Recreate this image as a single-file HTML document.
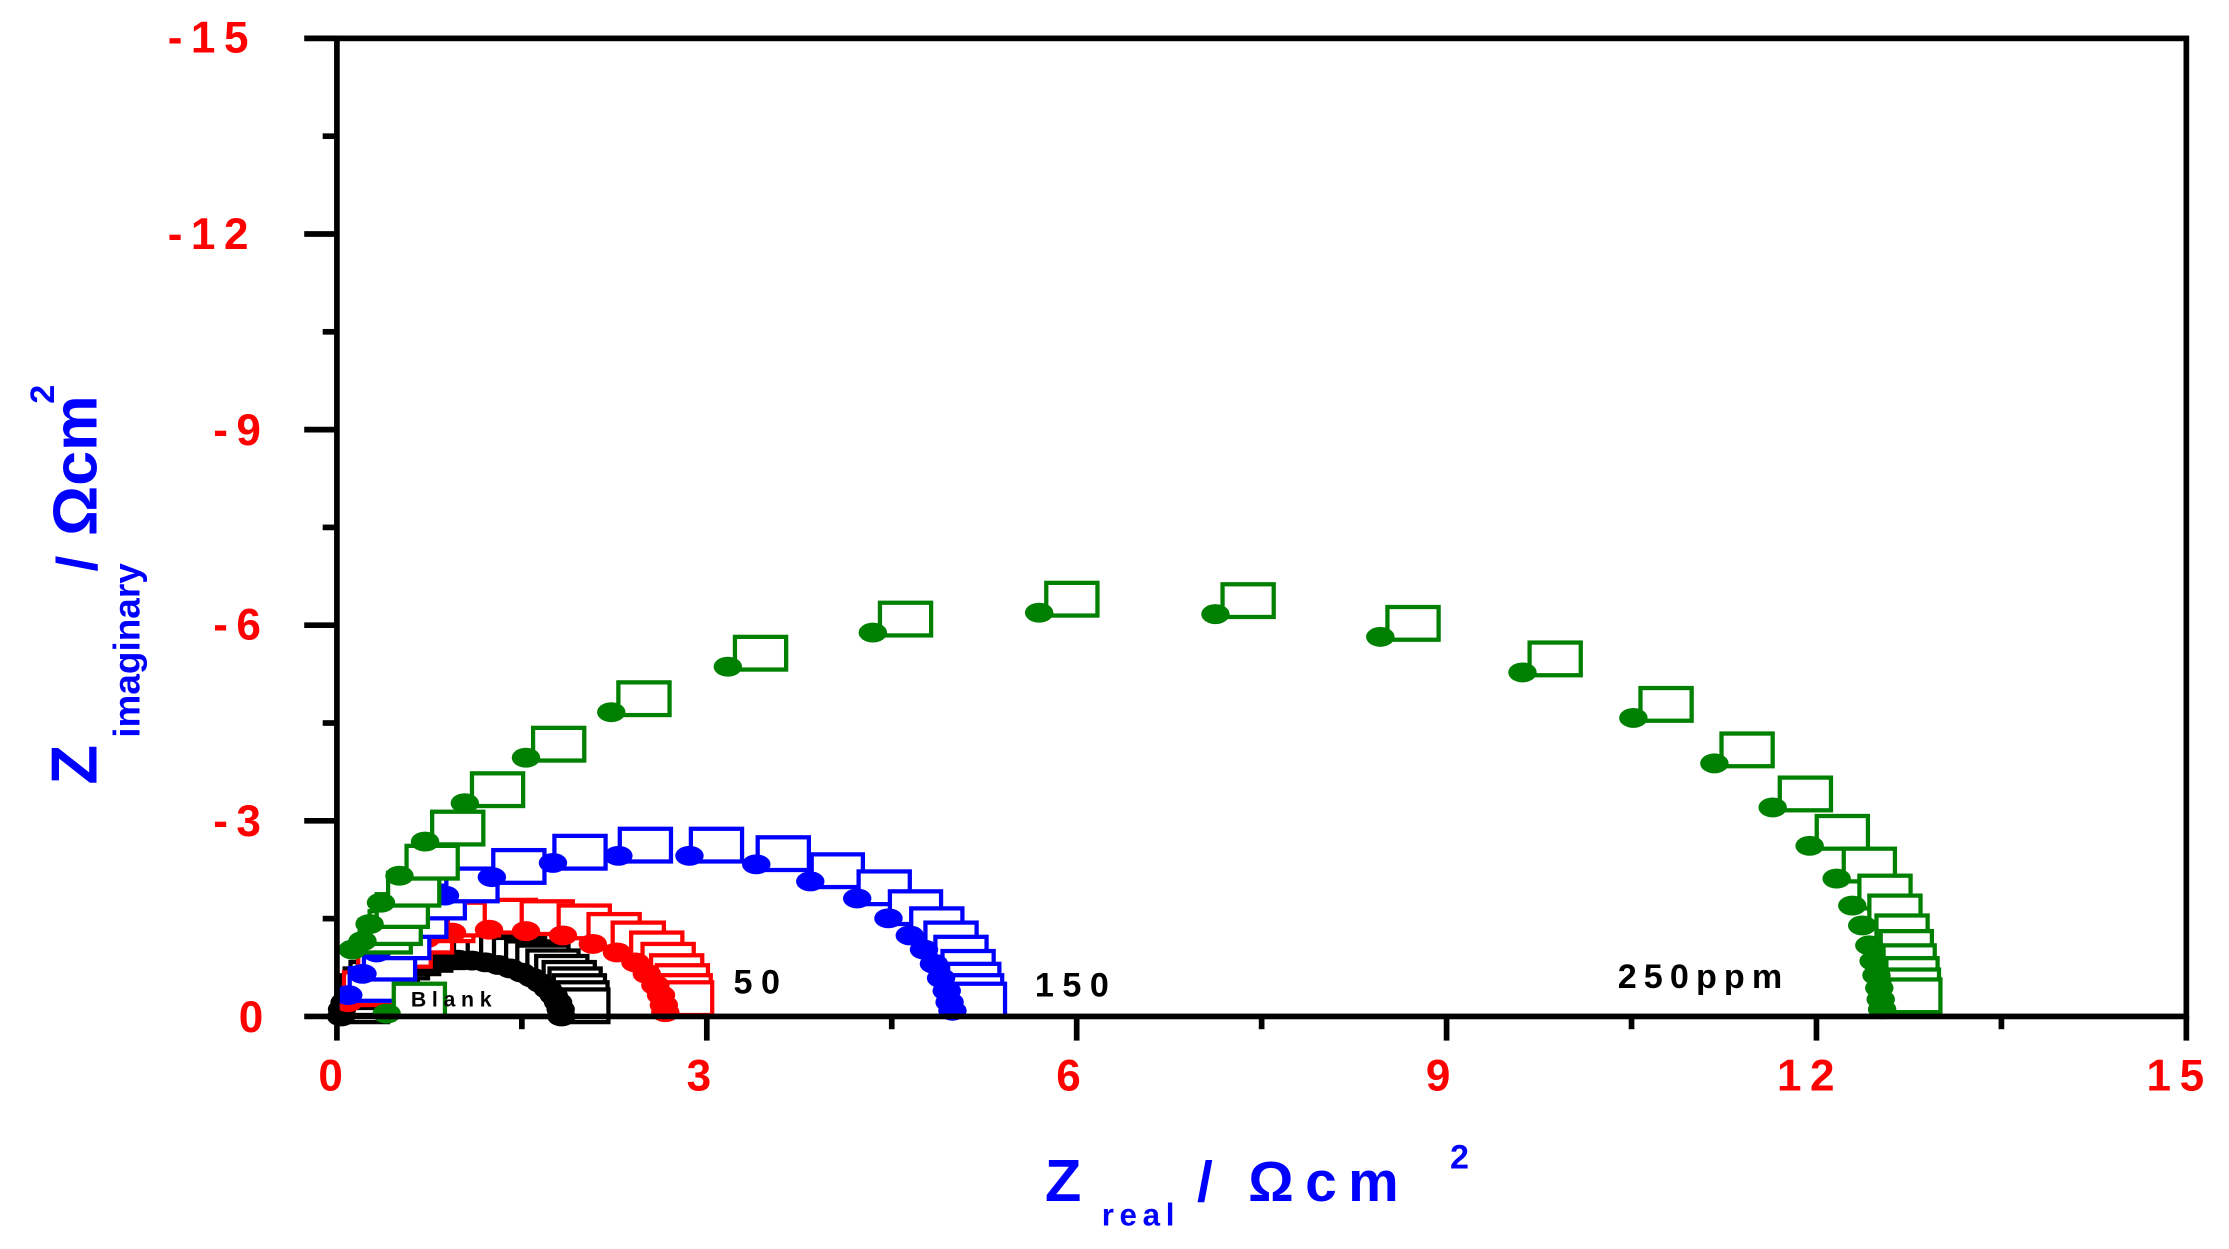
<!DOCTYPE html>
<html><head><meta charset="utf-8"><style>
html,body{margin:0;padding:0;background:#fff;}
svg{display:block;}
text{font-family:"Liberation Sans",Arial,sans-serif;font-weight:bold;}
</style></head><body>
<svg id="s" width="2229" height="1249" viewBox="0 0 1568 878.6" preserveAspectRatio="none" xmlns="http://www.w3.org/2000/svg">
<g id="data"></g>
<rect x="237" y="27" width="1301" height="688" fill="none" stroke="#000" stroke-width="4"/>
<g id="ticks" stroke="#000" stroke-width="4"></g>
<g fill="#f00" font-size="31" letter-spacing="6">
<text x="118" y="37">-15</text>
<text x="118" y="175">-12</text>
<text x="150" y="313">-9</text>
<text x="150" y="450">-6</text>
<text x="150" y="588">-3</text>
<text x="168" y="726">0</text>
<text x="224" y="767">0</text>
<text x="483" y="767">3</text>
<text x="743" y="767">6</text>
<text x="1003" y="767">9</text>
<text x="1250" y="767">12</text>
<text x="1510" y="767">15</text>
</g>
<g fill="#000">
<text x="289" y="708" font-size="15" letter-spacing="4">Blank</text>
<text x="516" y="699" font-size="24" letter-spacing="6">50</text>
<text x="728" y="701" font-size="24" letter-spacing="6">150</text>
<text x="1138" y="695" font-size="24" letter-spacing="5">250ppm</text>
</g>
<g fill="#00f">
<text x="735" y="845" font-size="42">Z</text>
<text x="775" y="862" font-size="22" letter-spacing="4">real</text>
<text x="842" y="845" font-size="40">/</text>
<text x="878" y="845" font-size="40" letter-spacing="8">Ωcm</text>
<text x="1020" y="822" font-size="24">2</text>
<g transform="translate(68,552) rotate(-90)">
<text x="0" y="0" font-size="46">Z</text>
<text x="33" y="30" font-size="26">imaginary</text>
<text x="150" y="0" font-size="40">/</text>
<text x="175" y="0" font-size="44">Ωcm</text>
<text x="268" y="-30" font-size="24">2</text>
</g>
</g>
</svg>
<script>
var g=document.getElementById('data'),t=document.getElementById('ticks'),ns='http://www.w3.org/2000/svg';
function el(p,n,a){var e=document.createElementNS(ns,n);for(var k in a)e.setAttribute(k,a[k]);p.appendChild(e);return e;}
for(var i=0;i<=10;i++){var x=237+i*130.1,maj=i%2==0;el(t,'line',{x1:x,y1:715,x2:x,y2:maj?732:724});}
for(var i=0;i<=10;i++){var y=715-i*68.8,maj=i%2==0;el(t,'line',{x1:237,y1:y,x2:maj?214:227,y2:y});}
function series(pts,col,offx,offy){
 pts.forEach(function(p){el(g,'rect',{x:p[0]+offx-17,y:p[1]+offy-11,width:36,height:23,fill:'#fff',stroke:col,'stroke-width':3});});
 pts.forEach(function(p){el(g,'ellipse',{cx:p[0],cy:p[1],rx:10,ry:7,fill:col});});
}
function arc(x0,x1,peak,n,bias){var pts=[],c=(x0+x1)/2,r=(x1-x0)/2;
 for(var i=0;i<n;i++){var a=Math.PI*Math.pow(i/(n-1),bias);pts.push([c-r*Math.cos(a),715-peak*Math.sin(a)]);}return pts;}
var blk=arc(240,395,40,26,1);series(blk,'#000',14,-8);
var red=[[245,705],[255,690],[270,678],[285,668],[300,660],[318,656],[344,654],[370,655],[396,658],[417,664],[434,670],[447,677],[455,685],[461,693],[465,700],[467,707],[468,712]];
series(red,'#f00',14,-10);
var blue=[[245,700],[255,685],[265,670],[277,655],[290,642],[313,630],[346,617],[389,607],[435,602],[485,602],[532,608],[570,620],[603,632],[625,646],[640,658],[650,668],[657,678],[662,688],[666,697],[668,705],[670,711]];
series(blue,'#00f',18,-8);
var green=[[272,713],[248,668],[255,662],[260,650],[268,635],[281,616],[299,592],[327,565],[370,533],[430,501],[512,469],[614,445],[731,431],[855,432],[971,448],[1071,473],[1149,505],[1206,537],[1247,568],[1273,595],[1292,618],[1303,637],[1310,651],[1315,665],[1318,676],[1320,686],[1322,695],[1323,703],[1324,710]];
series(green,'#008000',22,-10);
</script>
</body></html>
